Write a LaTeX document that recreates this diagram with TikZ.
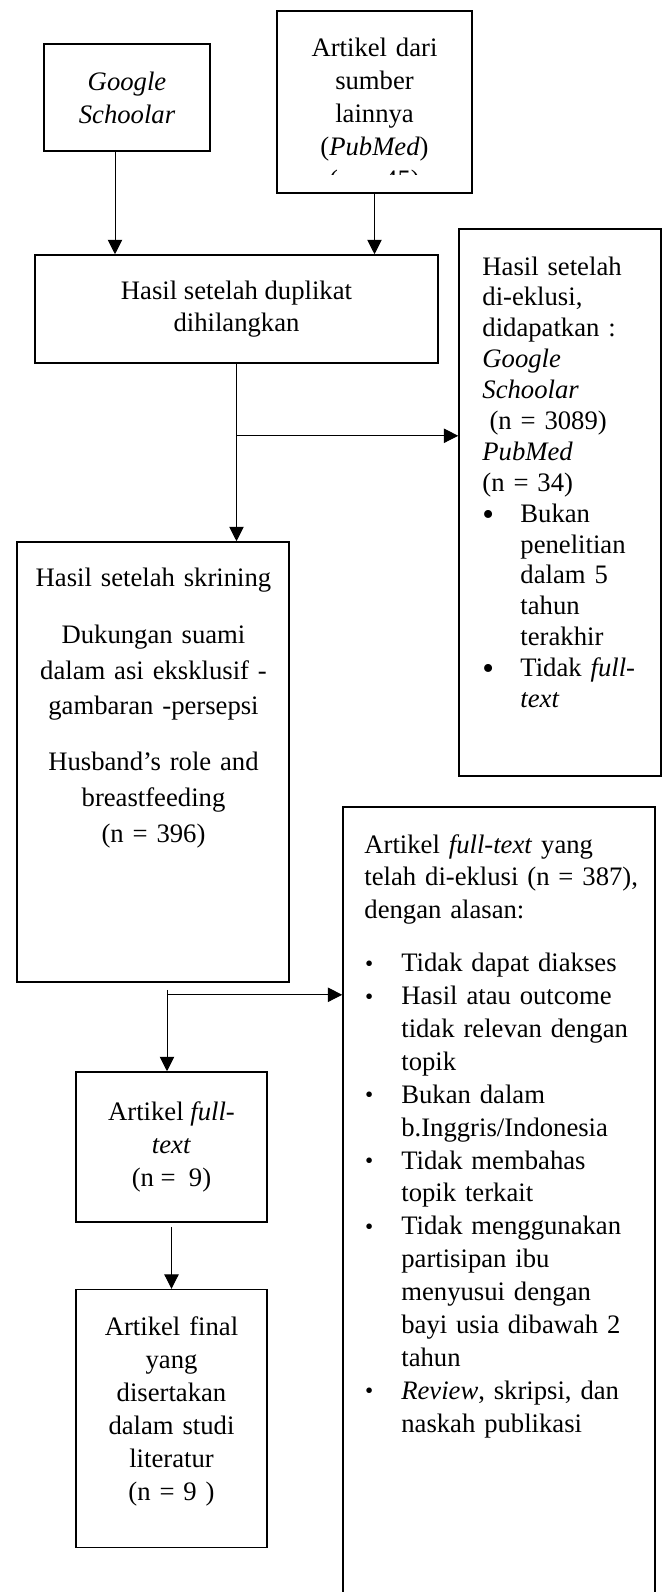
\documentclass[tikz,border=0pt]{standalone}
\usepackage{fontspec}
\setmainfont{Liberation Serif}
\usetikzlibrary{arrows.meta,positioning}
\tikzset{
    box/.style={rectangle,draw=black,line width=0.7pt,inner sep=0pt,align=center},
    txt/.style={inner sep=0pt,anchor=base},
    arr/.style={-{Triangle[length=6.5pt,width=6.5pt]},line width=0.45pt},
}
\newcommand{\bigbul}{\makebox[17.1pt][l]{\raisebox{-1.3pt}{\fontsize{15}{15}\selectfont\textbullet}}}
\newcommand{\smbul}{\makebox[16.6pt][l]{\hspace{0.3pt}\raisebox{0.2pt}{\fontsize{10.5}{10.5}\selectfont\textbullet}}}
\newcommand{\hang}[1]{\hspace*{#1}}

\begin{document}
\begin{tikzpicture}[x=0.45pt,y=-0.45pt]
\useasboundingbox (0,0) rectangle (665,1592);
\clip (0,0) rectangle (665,1592);
% sources
\node[box,minimum width=74.7pt,minimum height=48.15pt,font=\fontsize{12}{14.85}\selectfont\itshape](Gs) at (127,97.5) {Google\\ Schoolar};
\node[box,minimum width=87.75pt,minimum height=81.9pt](Pm) at (374.5,102) {};
\begin{scope}
\clip (277,11) rectangle (472,174);
\node[txt,text width=85pt,align=center,font=\fontsize{12}{14.85}\selectfont](PmT) at (374.5,56) {Artikel dari\\ sumber\\ lainnya\\ (\textit{PubMed})\\ (n = 45)};
\end{scope}
\node[box,minimum width=181.35pt,minimum height=48.6pt,font=\fontsize{12}{14.4}\selectfont](Dup) at (236.5,309) {Hasil setelah duplikat\\ dihilangkan};
% first exclusion
\node[box,minimum width=90.9pt,minimum height=246.15pt](Ex1) at (560,502.5) {};
\node[txt,anchor=base west,text width=85pt,align=left,font=\fontsize{12}{13.9}\selectfont](Ex1T) at (482,275) {Hasil setelah\\ di-eklusi,\\ didapatkan :\\ \textit{Google}\\ \textit{Schoolar}\\ \hang{3.2pt}(n = 3089)\\ \textit{PubMed}\\ (n = 34)\\ \bigbul Bukan\\ \hang{17.1pt}penelitian\\ \hang{17.1pt}dalam 5\\ \hang{17.1pt}tahun\\ \hang{17.1pt}terakhir\\ \bigbul Tidak \textit{full-}\\ \hang{17.1pt}\textit{text}};
% screening
\node[box,minimum width=122.4pt,minimum height=198pt](Skr) at (153,762) {};
\node[txt,text width=120pt,align=center,font=\fontsize{12}{16}\selectfont](SkrT) at (153.5,586) {Hasil setelah skrining\\[10pt] Dukungan suami\\ dalam asi eksklusif -\\ gambaran -persepsi\\[9.2pt] Husband’s role and\\ breastfeeding\\ (n = 396)};
% second exclusion
\node[box,minimum width=140.4pt,minimum height=374.85pt](Ex2) at (499,1223.5) {};
\node[txt,anchor=base west,text width=130pt,align=left,font=\fontsize{12}{14.8}\selectfont](Ex2T) at (364,853) {Artikel \textit{full-text} yang\\ telah di-eklusi (n = 387),\\ dengan alasan:\\[9pt] \smbul Tidak dapat diakses\\ \smbul Hasil atau outcome\\ \hang{16.6pt}tidak relevan dengan\\ \hang{16.6pt}topik\\ \smbul Bukan dalam\\ \hang{16.6pt}b.Inggris/Indonesia\\ \smbul Tidak membahas\\ \hang{16.6pt}topik terkait\\ \smbul Tidak menggunakan\\ \hang{16.6pt}partisipan ibu\\ \hang{16.6pt}menyusui dengan\\ \hang{16.6pt}bayi usia dibawah 2\\ \hang{16.6pt}tahun\\ \smbul \textit{Review}, skripsi, dan\\ \hang{16.6pt}naskah publikasi};
% included
\node[box,minimum width=85.95pt,minimum height=67.5pt,font=\fontsize{12}{15}\selectfont](Ft) at (171.5,1147) {Artikel \textit{full-}\\ \textit{text}\\ (n = \ 9)};
\node[box,minimum width=85.95pt,minimum height=116.1pt](Fin) [below=29.7pt of Ft] {};
\node[txt,text width=84pt,align=center,font=\fontsize{12}{14.85}\selectfont](FinT) at (171.5,1335) {Artikel final\\ yang\\ disertakan\\ dalam studi\\ literatur\\ (n = 9\ )};
% connectors
\coordinate (g1) at ([xshift=-5.4pt]Gs.south);
\draw[arr] (g1) -- (g1 |- Dup.north);
\draw[arr] (Pm.south) -- (Pm.south |- Dup.north);
\draw[arr] (Dup.south) -- (Dup.south |- Skr.north);
\coordinate (b1) at ([yshift=-32.4pt]Dup.south);
\draw[arr] (b1) -- (b1 -| Ex1.west);
\coordinate (t2) at ([xshift=6.3pt,yshift=-3.15pt]Skr.south);
\coordinate (b2) at ([xshift=6.3pt,yshift=-5.4pt]Skr.south);
\draw[arr] (t2) -- (t2 |- Ft.north);
\draw[arr] (b2) -- (b2 -| Ex2.west);
\draw[arr] ([yshift=-1.8pt]Ft.south) -- (Fin.north);
\end{tikzpicture}
\end{document}
